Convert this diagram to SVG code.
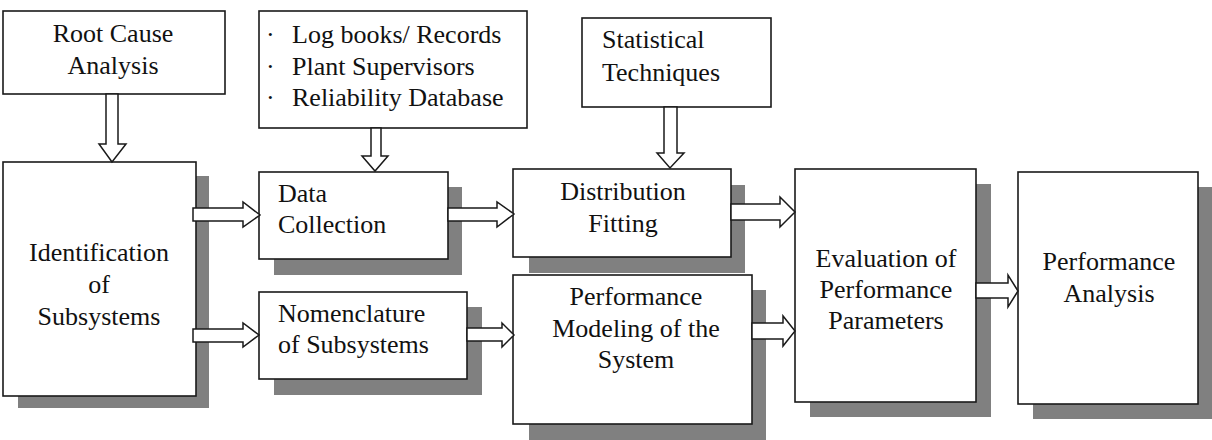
<svg xmlns="http://www.w3.org/2000/svg" width="1212" height="440" viewBox="0 0 1212 440">
<style>
.box{fill:#fff;stroke:#1a1a1a;stroke-width:1.6}
.sh{fill:#808080}
.t{font-family:'Liberation Serif','Times New Roman',Tinos,'DejaVu Serif','Noto Serif',serif;font-size:26px;fill:#111}
.c{text-anchor:middle}
.arr{fill:#fff;stroke:#1a1a1a;stroke-width:1.5;stroke-linejoin:miter}
</style>
<rect width="1212" height="440" fill="#fff"/>
<g id="root-cause">
<rect class="box" x="3" y="11" width="222" height="83"/>
<text class="t c" x="113" y="42">Root Cause</text>
<text class="t c" x="113" y="74">Analysis</text>
</g>
<g id="sources">
<rect class="box" x="259" y="11" width="268" height="117"/>
<text class="t" x="266" y="43">·</text><text class="t" x="292" y="43">Log books/ Records</text>
<text class="t" x="266" y="75">·</text><text class="t" x="292" y="75">Plant Supervisors</text>
<text class="t" x="266" y="106">·</text><text class="t" x="292" y="106">Reliability Database</text>
</g>
<g id="statistical">
<rect class="box" x="582" y="18" width="189" height="89"/>
<text class="t" x="602" y="48">Statistical</text>
<text class="t" x="602" y="81">Techniques</text>
</g>
<g id="identification">
<rect class="sh" x="18" y="176" width="191" height="232"/>
<rect class="box" x="3" y="162" width="193" height="234"/>
<text class="t c" x="99" y="261">Identification</text>
<text class="t c" x="99" y="293">of</text>
<text class="t c" x="99" y="325">Subsystems</text>
</g>
<g id="data-collection">
<rect class="sh" x="274" y="187" width="188" height="88"/>
<rect class="box" x="259" y="172" width="189" height="87"/>
<text class="t" x="278" y="202">Data</text>
<text class="t" x="278" y="233">Collection</text>
</g>
<g id="nomenclature">
<rect class="sh" x="274" y="307" width="208" height="88"/>
<rect class="box" x="259" y="292" width="208" height="87"/>
<text class="t" x="278" y="322">Nomenclature</text>
<text class="t" x="278" y="353">of Subsystems</text>
</g>
<g id="distribution">
<rect class="sh" x="529" y="185" width="216" height="88"/>
<rect class="box" x="513" y="169" width="218" height="88"/>
<text class="t c" x="623" y="200">Distribution</text>
<text class="t c" x="623" y="232">Fitting</text>
</g>
<g id="performance-modeling">
<rect class="sh" x="529" y="290" width="237" height="150"/>
<rect class="box" x="513" y="275" width="239" height="149"/>
<text class="t c" x="636" y="305">Performance</text>
<text class="t c" x="636" y="337">Modeling of the</text>
<text class="t c" x="636" y="368">System</text>
</g>
<g id="evaluation">
<rect class="sh" x="810" y="184" width="181" height="233"/>
<rect class="box" x="795" y="169" width="181" height="233"/>
<text class="t c" x="886" y="267">Evaluation of</text>
<text class="t c" x="886" y="298">Performance</text>
<text class="t c" x="886" y="329">Parameters</text>
</g>
<g id="performance-analysis">
<rect class="sh" x="1033" y="187" width="179" height="232"/>
<rect class="box" x="1018" y="172" width="180" height="232"/>
<text class="t c" x="1109" y="270">Performance</text>
<text class="t c" x="1109" y="302">Analysis</text>
</g>
<g id="connectors">
<polygon class="arr" points="106,94 118,94 118,144 126,144 112,162 99,144 106,144"/>
<polygon class="arr" points="371,128 381,128 381,156 388,156 375,171 362,156 371,156"/>
<polygon class="arr" points="664,107 677,107 677,153 684,153 670,168 657,153 664,153"/>
<polygon class="arr" points="193,208 243,208 243,202 260,215 243,227 243,221 193,221"/>
<polygon class="arr" points="193,329 243,329 243,323 259,335 243,347 243,342 193,342"/>
<polygon class="arr" points="448,208 497,208 497,202 514,214 497,227 497,221 448,221"/>
<polygon class="arr" points="467,328 502,328 502,323 514,335 502,347 502,341 467,341"/>
<polygon class="arr" points="731,204 780,204 780,197 795,212 780,227 780,220 731,220"/>
<polygon class="arr" points="752,323 783,323 783,316 795,331 783,346 783,339 752,339"/>
<polygon class="arr" points="976,283 1008,283 1008,275 1018,291 1008,307 1008,298 976,298"/>
</g>
</svg>
